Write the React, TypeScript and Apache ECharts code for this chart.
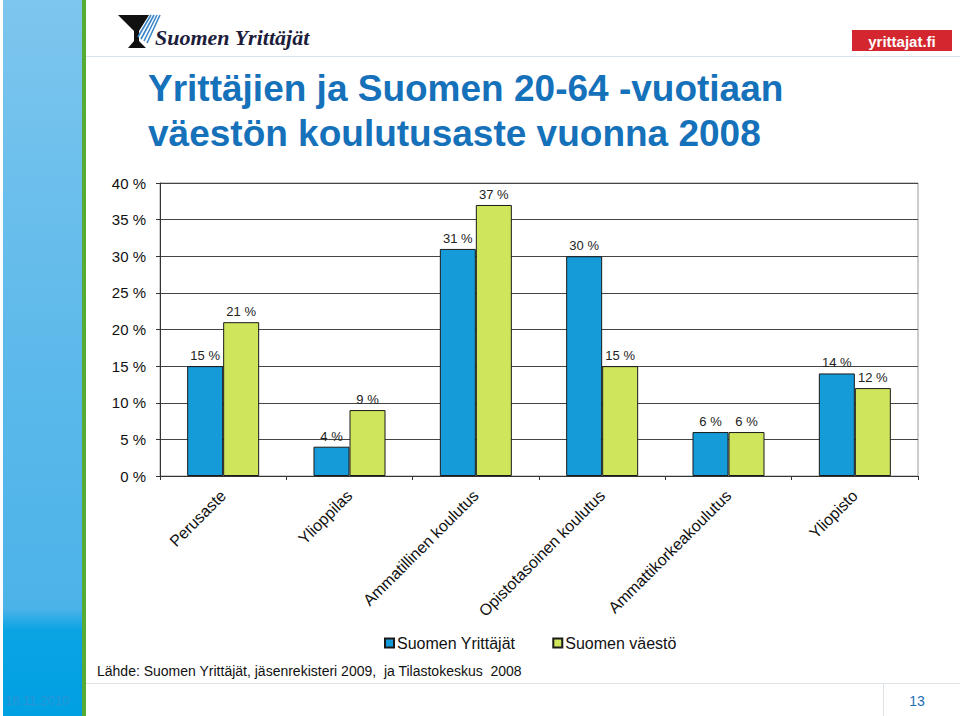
import React, { useEffect, useRef } from "react";
import * as echarts from "echarts";

const categories = [
  "Perusaste",
  "Ylioppilas",
  "Ammatillinen koulutus",
  "Opistotasoinen koulutus",
  "Ammattikorkeakoulutus",
  "Yliopisto",
];
const seriesNames = ["Suomen Yrittäjät", "Suomen väestö"];
const yrittajat = [15, 4, 31, 30, 6, 14];
const vaesto = [21, 9, 37, 15, 6, 12];
const titleLines = [
  "Yrittäjien ja Suomen 20-64 -vuotiaan",
  "väestön koulutusaste vuonna 2008",
];
const sourceText = "Lähde: Suomen Yrittäjät, jäsenrekisteri 2009,  ja Tilastokeskus  2008";
const dateText = "16.11.2010";
const pageText = "13";

const FONT = "'Liberation Sans', Arial, sans-serif";

export default function App() {
  const ref = useRef<HTMLDivElement>(null);
  useEffect(() => {
    document.body.style.margin = "0";
    const chart = echarts.init(ref.current!, null, { renderer: "svg" });
    const labelCfg = {
      show: true,
      position: "top",
      distance: 4,
      formatter: "{c} %",
      color: "#222",
      fontSize: 13,
      fontFamily: FONT,
    };
    chart.setOption({
      animation: false,
      backgroundColor: "#ffffff",
      textStyle: { fontFamily: FONT },
      grid: {
        left: 160,
        right: 42,
        top: 183,
        bottom: 240,
        show: true,
        borderColor: "#9a9a9a",
        borderWidth: 1,
      },
      legend: {
        data: seriesNames,
        left: 379,
        top: 630,
        itemWidth: 9,
        itemHeight: 9,
        itemGap: 37,
        icon: "rect",
        textStyle: { fontSize: 16, color: "#111", fontFamily: FONT, padding: [0, 0, 0, -2] },
      },
      xAxis: {
        type: "category",
        data: categories,
        axisLine: { lineStyle: { color: "#333", width: 1 } },
        axisTick: { show: true, length: 4, lineStyle: { color: "#333" } },
        axisLabel: {
          rotate: 45,
          margin: 17,
          fontSize: 16,
          color: "#111",
          fontFamily: FONT,
          interval: 0,
        },
      },
      yAxis: {
        type: "value",
        min: 0,
        max: 40,
        interval: 5,
        axisLine: { show: true, lineStyle: { color: "#333" } },
        axisTick: { show: true, length: 4, lineStyle: { color: "#333" } },
        axisLabel: {
          formatter: "{value} %",
          fontSize: 15,
          color: "#111",
          margin: 14,
          fontFamily: FONT,
        },
        splitLine: { show: true, lineStyle: { color: "#444", width: 1 } },
      },
      series: [
        {
          name: seriesNames[0],
          type: "bar",
          data: yrittajat,
          barGap: "0%",
          barCategoryGap: "43%",
          itemStyle: { color: "#159bd8", borderColor: "#1a1a1a", borderWidth: 1 },
          label: labelCfg,
        },
        {
          name: seriesNames[1],
          type: "bar",
          data: vaesto,
          barGap: "0%",
          barCategoryGap: "43%",
          itemStyle: { color: "#cfe55b", borderColor: "#1a1a1a", borderWidth: 1 },
          label: labelCfg,
        },
      ],
      graphic: [
        {
          type: "rect",
          shape: { x: 3, y: 0, width: 79, height: 716 },
          style: {
            fill: new echarts.graphic.LinearGradient(0, 0, 0, 1, [
              { offset: 0, color: "#7dc6ee" },
              { offset: 0.5, color: "#5cb9ea" },
              { offset: 0.85, color: "#4cb3e9" },
              { offset: 0.88, color: "#0aa4e3" },
              { offset: 1, color: "#00a0e2" },
            ]),
          },
          z: 0,
        },
        {
          type: "rect",
          shape: { x: 82, y: 0, width: 4, height: 716 },
          style: { fill: "#56ab35" },
        },
        {
          type: "line",
          shape: { x1: 86, y1: 56.5, x2: 960, y2: 56.5 },
          style: { stroke: "#dbe3ea", lineWidth: 1 },
        },
        {
          type: "line",
          shape: { x1: 86, y1: 683.5, x2: 960, y2: 683.5 },
          style: { stroke: "#dde3e8", lineWidth: 1 },
        },
        {
          type: "line",
          shape: { x1: 883.5, y1: 684, x2: 883.5, y2: 716 },
          style: { stroke: "#dde3e8", lineWidth: 1 },
        },
        // logo
        {
          type: "polygon",
          shape: {
            points: [
              [118, 15],
              [149, 15],
              [139, 31],
              [139, 41],
              [146, 48],
              [128, 48],
              [134, 41],
              [134, 31],
            ],
          },
          style: { fill: "#111" },
        },
        ...[0, 1, 2, 3].map((i) => ({
          type: "line",
          shape: { x1: 151 + i * 3, y1: 15, x2: 138 + i * 3, y2: 37 + i * 2 },
          style: { stroke: "#3b86c8", lineWidth: 1.6 },
        })),
        {
          type: "text",
          x: 155,
          y: 48,
          style: {
            text: "Suomen Yrittäjät",
            font: "italic bold 22px 'Liberation Serif', 'Times New Roman', serif",
            fill: "#1d1d3c",
            textVerticalAlign: "bottom",
          },
        },
        {
          type: "rect",
          shape: { x: 852, y: 30, width: 100, height: 21 },
          style: { fill: "#d4262e" },
        },
        {
          type: "text",
          x: 902,
          y: 41,
          style: {
            text: "yrittajat.fi",
            font: "bold 15px " + FONT,
            fill: "#ffffff",
            textAlign: "center",
            textVerticalAlign: "middle",
          },
        },
        ...titleLines.map((t, i) => ({
          type: "text",
          x: 148,
          y: 88 + i * 45,
          style: {
            text: t,
            font: "bold 37px " + FONT,
            fill: "#1571b9",
            textVerticalAlign: "middle",
          },
        })),
        {
          type: "text",
          x: 97,
          y: 671,
          style: {
            text: sourceText,
            font: "14px " + FONT,
            fill: "#111",
            textVerticalAlign: "middle",
          },
        },
        {
          type: "text",
          x: 5,
          y: 700,
          style: {
            text: dateText,
            font: "13px " + FONT,
            fill: "#2b93d6",
            textVerticalAlign: "middle",
          },
        },
        {
          type: "text",
          x: 917,
          y: 701,
          style: {
            text: pageText,
            font: "14px " + FONT,
            fill: "#1a6fb5",
            textAlign: "center",
            textVerticalAlign: "middle",
          },
        },
      ],
    });
    return () => chart.dispose();
  }, []);
  return (
    <div
      ref={ref}
      style={{ position: "fixed", left: 0, top: 0, width: 960, height: 716 }}
    />
  );
}
